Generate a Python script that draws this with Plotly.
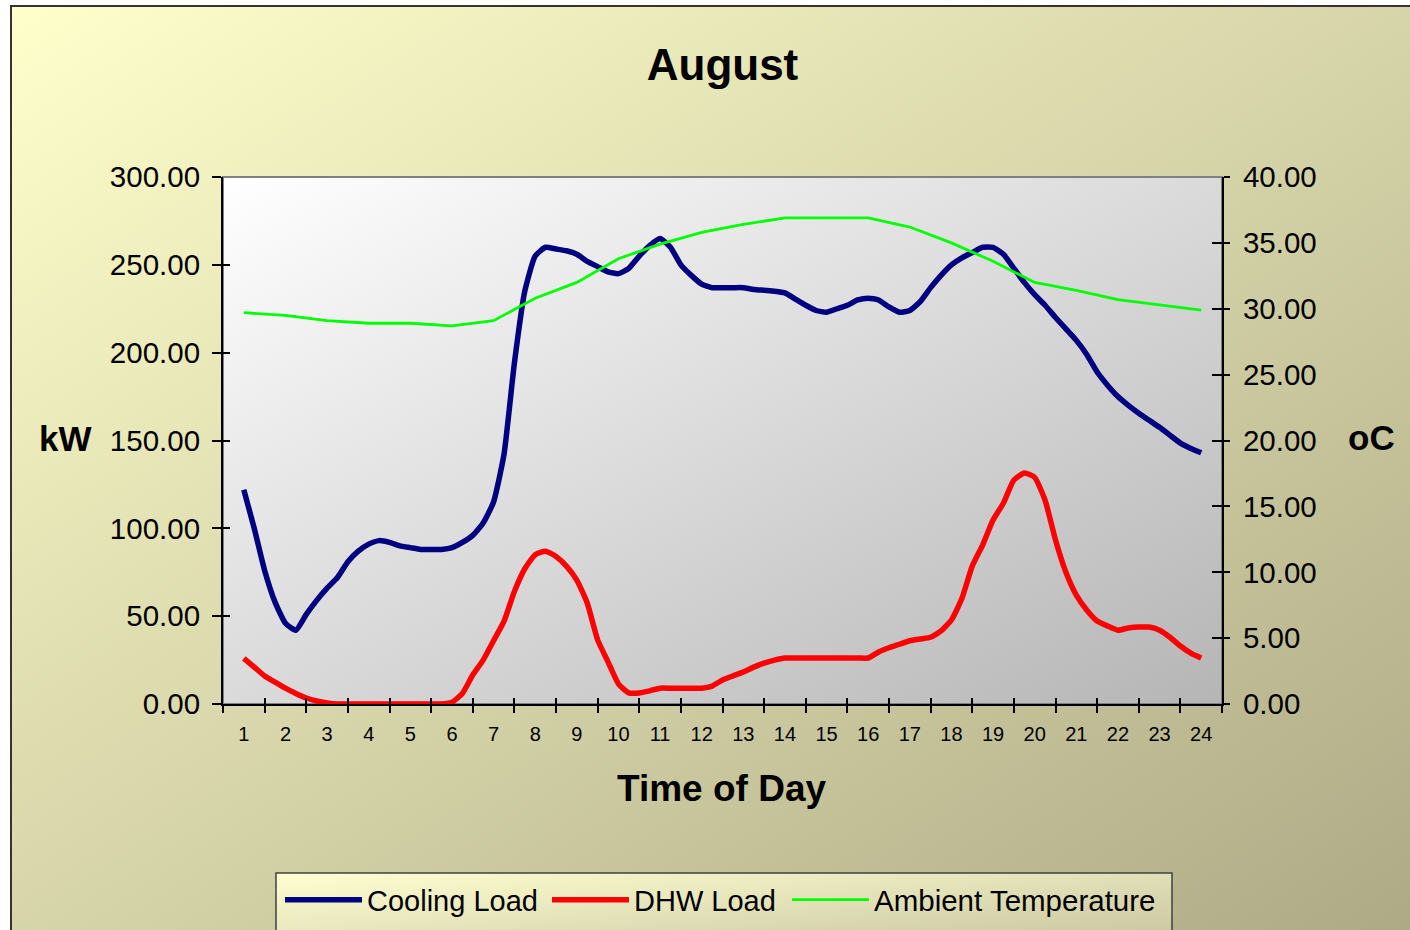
import base64
import plotly.graph_objects as go

# ---------------- data ----------------
hours = list(range(1, 25))
hour_labels = [str(h) for h in hours]

# quarter-hour time grid for the load curves
time_q = [1.00, 1.25, 1.50, 1.75, 2.00, 2.25, 2.50, 2.75, 3.00, 3.25, 3.50, 3.75,
          4.00, 4.25, 4.50, 4.75, 5.00, 5.25, 5.50, 5.75, 6.00, 6.25, 6.50, 6.75,
          7.00, 7.25, 7.50, 7.75, 8.00, 8.25, 8.50, 8.75, 9.00, 9.25, 9.50, 9.75,
          10.00, 10.25, 10.50, 10.75, 11.00, 11.25, 11.50, 11.75, 12.00, 12.25, 12.50, 12.75,
          13.00, 13.25, 13.50, 13.75, 14.00, 14.25, 14.50, 14.75, 15.00, 15.25, 15.50, 15.75,
          16.00, 16.25, 16.50, 16.75, 17.00, 17.25, 17.50, 17.75, 18.00, 18.25, 18.50, 18.75,
          19.00, 19.25, 19.50, 19.75, 20.00, 20.25, 20.50, 20.75, 21.00, 21.25, 21.50, 21.75,
          22.00, 22.25, 22.50, 22.75, 23.00, 23.25, 23.50, 23.75, 24.00]

cooling_load = [122, 100, 76, 58, 46, 42, 51, 59, 66, 72, 81, 87,
                91, 93, 92, 90, 89, 88, 88, 88, 89, 92, 96, 103,
                115, 142, 194, 235, 255, 260, 259, 258, 256, 252, 249, 246,
                245, 248, 255, 261, 265, 260, 250, 244, 239, 237, 237, 237,
                237, 236, 235.5, 235, 234, 230.5, 227, 224, 223, 225, 227, 230,
                231, 230, 226, 223, 224, 229, 237, 244, 250, 254, 257, 260,
                260, 256, 248, 240, 233, 227, 220, 213.5, 207, 199, 189, 181.5,
                175, 170, 165.5, 161.5, 157.5, 153, 148.5, 145.5, 143]

dhw_load = [26, 21, 16, 12.5, 9, 6, 3.4, 1.7, 0.6, 0, 0, 0,
            0, 0, 0, 0, 0, 0, 0, 0, 1, 6, 16.5, 25,
            36, 47, 64, 77, 85, 87, 84, 78.5, 70.5, 57.5, 36.5, 24,
            11.5, 6.3, 6.3, 7.5, 9, 9, 9, 9, 9, 10.2, 13.7, 16,
            18.2, 21, 23.3, 25, 26.2, 26.2, 26.2, 26.2, 26.2, 26.2, 26.2, 26.2,
            26.2, 29.6, 32, 34, 36, 37, 38, 41.6, 47.8, 60, 78.5, 90.5,
            104.7, 114.4, 127.5, 131.5, 129, 116, 93.4, 75, 62, 53.5, 47.2, 44.4,
            42, 43.3, 43.8, 43.8, 42, 38, 33, 29, 26.2]

ambient_temp = [29.7, 29.5, 29.1, 28.9, 28.9, 28.7, 29.1, 30.8, 32.0, 33.8, 34.9, 35.8,
                36.4, 36.9, 36.9, 36.9, 36.2, 35.0, 33.6, 32.0, 31.4, 30.7, 30.3, 29.9]

kw_ticks = [0, 50, 100, 150, 200, 250, 300]
temp_ticks = [0, 5, 10, 15, 20, 25, 30, 35, 40]

# ---------------- geometry (page pixels) ----------------
W, H = 1410, 930
L, R, T, B = 223, 1222, 177, 704          # plot area in page pixels
PW, PH = R - L, B - T


def px_x(p):
    return (p - L) / PW


def px_y(p):
    return (B - p) / PH


def grad_uri(w, h, c1, c2, frame=False):
    extra = ''
    if frame:
        extra = f'<path d="M1,{h} V1 H{w}" stroke="#333333" stroke-width="2" fill="none"/>'
    svg = (f'<svg xmlns="http://www.w3.org/2000/svg" width="{w}" height="{h}" '
           f'viewBox="0 0 {w} {h}" preserveAspectRatio="none"><defs>'
           f'<linearGradient id="g" x1="0" y1="0" x2="1" y2="1">'
           f'<stop offset="0" stop-color="{c1}"/><stop offset="1" stop-color="{c2}"/>'
           f'</linearGradient></defs><rect width="{w}" height="{h}" fill="url(#g)"/>{extra}</svg>')
    return 'data:image/svg+xml;base64,' + base64.b64encode(svg.encode()).decode()


FONT = 'Liberation Sans, Arial, sans-serif'

fig = go.Figure()

fig.add_trace(go.Scatter(x=time_q, y=cooling_load, name='Cooling Load', mode='lines',
                         line=dict(color='#000080', width=5.5, shape='spline', smoothing=0.5),
                         legend='legend'))
fig.add_trace(go.Scatter(x=time_q, y=dhw_load, name='DHW Load', mode='lines',
                         line=dict(color='#FF0000', width=5.5, shape='spline', smoothing=0.5),
                         legend='legend2'))
fig.add_trace(go.Scatter(x=hours, y=ambient_temp, name='Ambient Temperature', mode='lines',
                         line=dict(color='#00FF00', width=2.8), yaxis='y2',
                         legend='legend3'))
# helper traces so the tick-overlay axes are drawn
fig.add_trace(go.Scatter(x=[], y=[], xaxis='x2', yaxis='y3', showlegend=False, hoverinfo='skip'))
fig.add_trace(go.Scatter(x=[], y=[], xaxis='x2', yaxis='y4', showlegend=False, hoverinfo='skip'))

axis_common = dict(showgrid=False, zeroline=False)

fig.update_layout(
    width=W, height=H,
    margin=dict(l=L, r=W - R, t=T, b=H - B, autoexpand=False),
    paper_bgcolor='white', plot_bgcolor='rgba(0,0,0,0)',
    font=dict(family=FONT, color='black'),
    title=dict(text='<b>August</b>', font=dict(size=44, family=FONT, color='black'),
               x=0.5, xref='paper', xanchor='center', y=1 - 65 / H, yref='container',
               yanchor='middle'),
    xaxis=dict(range=[0.5, 24.5], tickmode='array', tickvals=hours, ticktext=hour_labels,
               ticks='', tickfont=dict(size=20), ticklabelstandoff=11,
               showline=True, linecolor='black', linewidth=2,
               minor=dict(tick0=0.5, dtick=1, ticks='outside', ticklen=7,
                          tickwidth=1.5, tickcolor='black'),
               **axis_common),
    xaxis2=dict(range=[0.5, 24.5], overlaying='x', anchor='y', side='bottom',
                tickmode='linear', tick0=0.5, dtick=1, ticks='inside', ticklen=6,
                tickwidth=1.5, tickcolor='black', showticklabels=False, showline=False,
                **axis_common),
    yaxis=dict(range=[0, 300], tickmode='array', tickvals=kw_ticks, tickformat='.2f',
               ticks='outside', ticklen=9, tickwidth=1.5, tickcolor='black',
               tickfont=dict(size=29.5), ticklabelstandoff=6,
               showline=True, linecolor='black', linewidth=2, **axis_common),
    yaxis2=dict(range=[0, 40], tickmode='array', tickvals=temp_ticks, tickformat='.2f',
                overlaying='y', side='right', anchor='x',
                ticks='outside', ticklen=6, tickwidth=1.5, tickcolor='black',
                tickfont=dict(size=29.5), ticklabelstandoff=7,
                showline=True, linecolor='black', linewidth=2, **axis_common),
    yaxis3=dict(range=[0, 300], tickmode='array', tickvals=kw_ticks, overlaying='y',
                side='left', anchor='x2', ticks='inside', ticklen=7, tickwidth=1.5,
                tickcolor='black', showticklabels=False, showline=False, **axis_common),
    yaxis4=dict(range=[0, 40], tickmode='array', tickvals=temp_ticks, overlaying='y',
                side='right', anchor='x2', ticks='inside', ticklen=10, tickwidth=1.5,
                tickcolor='black', showticklabels=False, showline=False, **axis_common),
    legend=dict(orientation='h', x=px_x(280), y=px_y(900), xanchor='left', yanchor='middle',
                bgcolor='rgba(0,0,0,0)', borderwidth=0, itemwidth=77,
                font=dict(size=29, family=FONT, color='black')),
    legend2=dict(orientation='h', x=px_x(547), y=px_y(900), xanchor='left', yanchor='middle',
                 bgcolor='rgba(0,0,0,0)', borderwidth=0, itemwidth=77,
                 font=dict(size=29, family=FONT, color='black')),
    legend3=dict(orientation='h', x=px_x(787), y=px_y(900), xanchor='left', yanchor='middle',
                 bgcolor='rgba(0,0,0,0)', borderwidth=0, itemwidth=77,
                 font=dict(size=29.5, family=FONT, color='black')),
    showlegend=True,
)

fig.update_layout(images=[
    dict(source=grad_uri(1400, 925, '#FFFFCC', '#AEAA86', frame=True), xref='paper', yref='paper',
         x=px_x(10), y=px_y(5), sizex=1400 / PW, sizey=925 / PH,
         xanchor='left', yanchor='top', sizing='stretch', layer='below'),
    dict(source=grad_uri(PW, PH, '#FFFFFF', '#B5B5B5'), xref='paper', yref='paper',
         x=0, y=1, sizex=1, sizey=1, xanchor='left', yanchor='top', sizing='stretch',
         layer='below'),
    dict(source=grad_uri(896, 80, '#FFFFD2', '#C4C09C'), xref='paper', yref='paper',
         x=px_x(276), y=px_y(873), sizex=896 / PW, sizey=80 / PH,
         xanchor='left', yanchor='top', sizing='stretch', layer='below'),
])

fig.update_layout(shapes=[
    dict(type='rect', xref='paper', yref='paper', x0=0, x1=1, y0=0, y1=1,
         line=dict(color='#808080', width=2), fillcolor='rgba(0,0,0,0)', layer='below'),
    dict(type='rect', xref='paper', yref='paper', x0=px_x(276), x1=px_x(1172),
         y0=px_y(873), y1=px_y(950), line=dict(color='#404040', width=1.5),
         fillcolor='rgba(0,0,0,0)', layer='below'),
])

fig.update_layout(annotations=[
    dict(text='<b>kW</b>', x=px_x(65), y=px_y(438), xref='paper', yref='paper',
         showarrow=False, xanchor='center', yanchor='middle', font=dict(size=35, family=FONT)),
    dict(text='<b>oC</b>', x=px_x(1371), y=px_y(437), xref='paper', yref='paper',
         showarrow=False, xanchor='center', yanchor='middle', font=dict(size=35, family=FONT)),
    dict(text='<b>Time of Day</b>', x=px_x(721), y=px_y(788), xref='paper', yref='paper',
         showarrow=False, xanchor='center', yanchor='middle', font=dict(size=37, family=FONT)),
])

fig.write_html('out.html', config={'displayModeBar': False},
               post_script="document.body.style.margin='0';document.body.style.overflow='hidden';")
